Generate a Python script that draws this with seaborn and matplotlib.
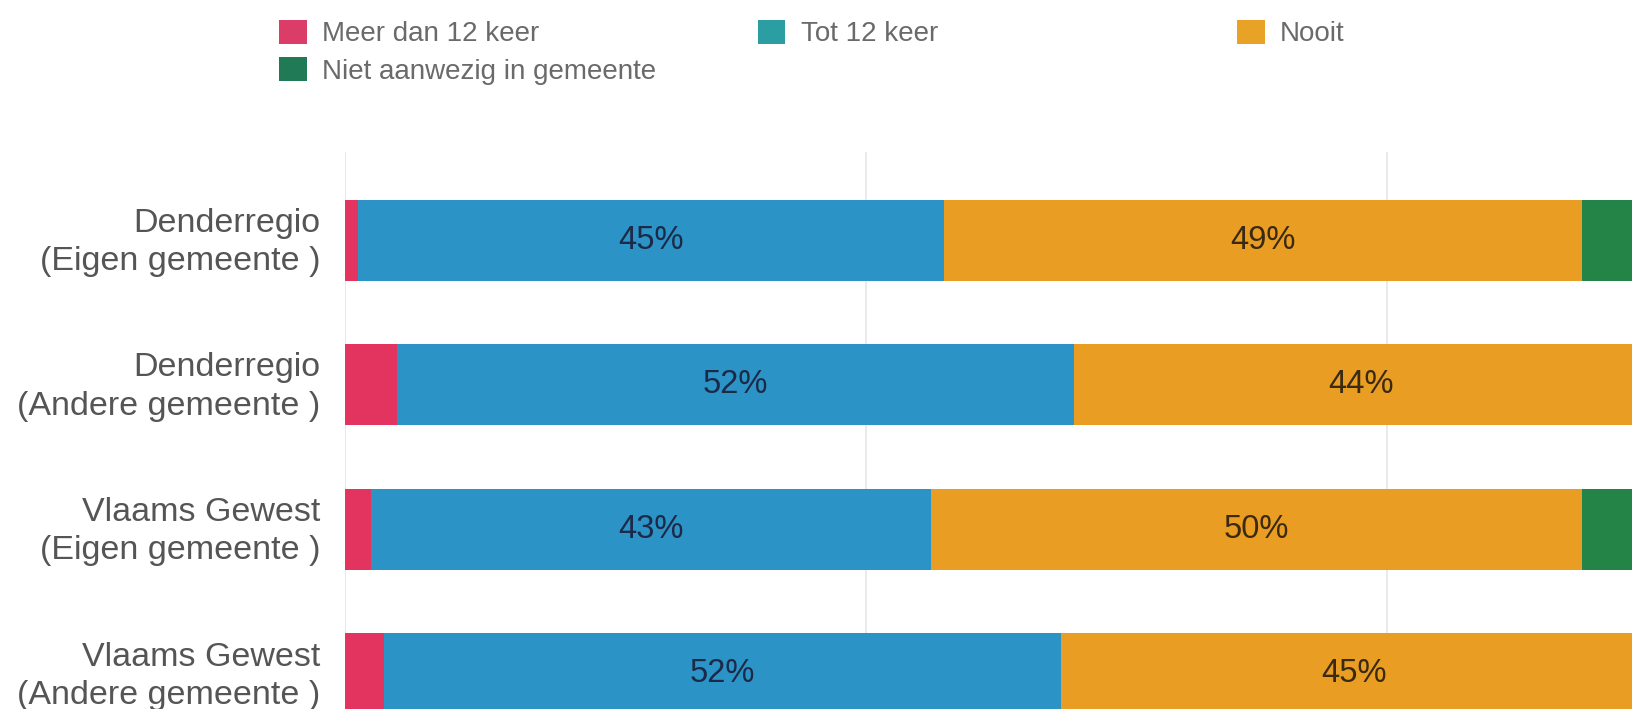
import matplotlib
matplotlib.use("Agg")
import numpy as np
import pandas as pd
import matplotlib.pyplot as plt
import matplotlib.transforms as mtransforms
import seaborn as sns
from matplotlib.patches import Patch

# data (percentages)
groepen = ["Denderregio\n(Eigen gemeente )", "Denderregio\n(Andere gemeente )",
           "Vlaams Gewest\n(Eigen gemeente )", "Vlaams Gewest\n(Andere gemeente )"]
reeksen = ["Meer dan 12 keer", "Tot 12 keer", "Nooit", "Niet aanwezig in gemeente"]
meer_dan_12 = [1, 4, 2, 3]
tot_12 = [45, 52, 43, 52]
nooit = [49, 44, 50, 45]
niet_aanwezig = [5, 0, 5, 0]

bar_kleuren = ["#e2345f", "#2b93c6", "#e99d22", "#248447"]
legend_kleuren = ["#dc3c68", "#2a9ea2", "#e8a226", "#1f7a55"]
tekst_kleuren = [None, "#1c2a48", "#3a2a12", None]

sns.set_theme(style="white")
plt.rcParams["font.family"] = ["Liberation Sans", "DejaVu Sans"]

df = pd.DataFrame({"groep": groepen,
                   "r": meer_dan_12, "b": tot_12, "o": nooit, "g": niet_aanwezig})
cum = df[["r", "b", "o", "g"]].cumsum(axis=1)

fig = plt.figure(figsize=(16.33, 7.09), dpi=100)
ax = fig.add_axes([0.2113, -0.075, 0.7973, 0.8606])

# stacked bars: draw cumulative totals from largest to smallest
for col, kleur in zip(["g", "o", "b", "r"], bar_kleuren[::-1]):
    sns.barplot(x=cum[col], y=df["groep"], color=kleur, orient="h",
                width=0.56, ax=ax, saturation=1, linewidth=0, zorder=2)

# value labels in the middle of the blue and orange parts
for i in range(len(groepen)):
    links = 0
    for j, col in enumerate(["r", "b", "o", "g"]):
        w = df[col].iloc[i]
        if tekst_kleuren[j] is not None and w > 0:
            ax.text(links + w / 2, i, f"{w}%", ha="center", va="center",
                    fontsize=23.5, color=tekst_kleuren[j], zorder=3)
        links += w

ax.set_xlim(0, 100)
ax.set_ylim(3.61, -0.61)
ax.set_xticks([0, 40, 80])
ax.xaxis.grid(True, color="#e6e6e6", linewidth=1.2, zorder=0)
ax.set_axisbelow(True)
ax.set_xticklabels([])
ax.set_xlabel("")
ax.set_ylabel("")
ax.tick_params(axis="y", length=0, pad=18, labelsize=24.5, labelcolor="#555555")
ax.tick_params(axis="x", length=0)
# labels a little higher, like the original
shift = mtransforms.ScaledTranslation(0, 3.5 / 72, fig.dpi_scale_trans)
for lbl in ax.get_yticklabels():
    lbl.set_linespacing(1.3)
    lbl.set_transform(lbl.get_transform() + shift)
sns.despine(ax=ax, left=True, bottom=True)

# legend in three separate columns
h = [Patch(facecolor=c, edgecolor="none") for c in legend_kleuren]
opts = dict(loc="upper left", frameon=False, fontsize=20, handlelength=1.0,
            handleheight=0.95, handletextpad=0.55, borderpad=0, borderaxespad=0,
            labelspacing=0.35, labelcolor="#6a6a6a")
fig.legend([h[0], h[3]], [reeksen[0], reeksen[3]], bbox_to_anchor=(0.1708, 0.972), **opts)
fig.legend([h[1]], [reeksen[1]], bbox_to_anchor=(0.464, 0.972), **opts)
fig.legend([h[2]], [reeksen[2]], bbox_to_anchor=(0.7575, 0.972), **opts)

fig.savefig("out.png", dpi=100)
